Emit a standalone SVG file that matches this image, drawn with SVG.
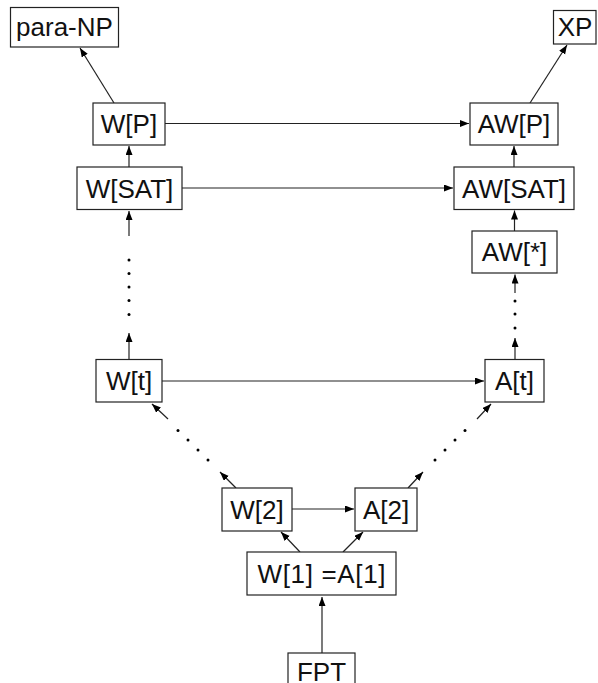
<svg xmlns="http://www.w3.org/2000/svg" width="598" height="683" viewBox="0 0 598 683">
<defs>
<marker id="ah" markerUnits="userSpaceOnUse" markerWidth="10" markerHeight="8" refX="9" refY="3.5" orient="auto">
<path d="M0,0 L9,3.5 L0,7 z" fill="#000"/>
</marker>
<style>
.box{fill:#fff;stroke:#222;stroke-width:1.2}
.lbl{font-family:"Liberation Sans",Arial,sans-serif;font-size:26px;fill:#111;text-anchor:middle}
.edge{stroke:#222;stroke-width:1.2;fill:none;marker-end:url(#ah)}
.dot{fill:#000}
</style>
</defs>
<rect width="598" height="683" fill="#fff"/>
<g id="connectors">
<line class="edge" x1="165" y1="123.5" x2="469" y2="123.5"/>
<line class="edge" x1="182" y1="188" x2="453" y2="188"/>
<line class="edge" x1="162" y1="381" x2="484" y2="381"/>
<line class="edge" x1="292" y1="509" x2="354" y2="509"/>
<line class="edge" x1="129" y1="167" x2="129" y2="146"/>
<line class="edge" x1="514" y1="167" x2="514" y2="146"/>
<line class="edge" x1="514.5" y1="231" x2="514.5" y2="210.5"/>
<line class="edge" x1="114" y1="103" x2="80" y2="48"/>
<line class="edge" x1="530" y1="103" x2="567" y2="45"/>
<line class="edge" x1="322" y1="653" x2="322" y2="597"/>
<line class="edge" x1="300" y1="552" x2="281" y2="532"/>
<line class="edge" x1="343" y1="552" x2="363" y2="532"/>
<line class="edge" x1="129" y1="359" x2="129" y2="333"/>
<line class="edge" x1="129" y1="236" x2="129" y2="211"/>
<g class="dot"><circle cx="129" cy="260" r="1.5"/><circle cx="129" cy="273.5" r="1.5"/><circle cx="129" cy="287" r="1.5"/><circle cx="129" cy="300.5" r="1.5"/><circle cx="129" cy="314.5" r="1.5"/></g>
<line class="edge" x1="515" y1="359" x2="515" y2="338"/>
<line class="edge" x1="515" y1="293" x2="515" y2="274.5"/>
<g class="dot"><circle cx="515" cy="301" r="1.5"/><circle cx="515" cy="314" r="1.5"/><circle cx="515" cy="328" r="1.5"/></g>
<line class="edge" x1="236" y1="488" x2="220" y2="472"/>
<line class="edge" x1="168" y1="419" x2="152" y2="404"/>
<g class="dot"><circle cx="208" cy="460" r="1.5"/><circle cx="198" cy="450" r="1.5"/><circle cx="188" cy="440" r="1.5"/><circle cx="178" cy="430.5" r="1.5"/></g>
<line class="edge" x1="408" y1="488" x2="423" y2="472"/>
<line class="edge" x1="477" y1="419" x2="491" y2="404"/>
<g class="dot"><circle cx="435" cy="460" r="1.5"/><circle cx="445" cy="450" r="1.5"/><circle cx="455" cy="440" r="1.5"/><circle cx="465" cy="430.5" r="1.5"/></g>
</g>
<g id="paraNP"><rect class="box" x="10.5" y="7.5" width="108" height="39.5"/><text class="lbl" x="64.5" y="35.5">para-NP</text></g>
<g id="XP"><rect class="box" x="553.5" y="10.5" width="42.5" height="33.5"/><text class="lbl" x="575" y="35.5">XP</text></g>
<g id="WP"><rect class="box" x="93" y="103" width="72" height="42"/><text class="lbl" x="129" y="133">W[P]</text></g>
<g id="AWP"><rect class="box" x="470" y="103" width="88" height="42"/><text class="lbl" x="514" y="133">AW[P]</text></g>
<g id="WSAT"><rect class="box" x="77" y="167" width="105" height="42.5"/><text class="lbl" x="129.5" y="197.5">W[SAT]</text></g>
<g id="AWSAT"><rect class="box" x="454" y="167" width="120" height="42.5"/><text class="lbl" x="514" y="197.5">AW[SAT]</text></g>
<g id="AWstar"><rect class="box" x="472" y="231" width="85" height="42"/><text class="lbl" x="514.5" y="261">AW[*]</text></g>
<g id="Wt"><rect class="box" x="96" y="359.5" width="66" height="42.5"/><text class="lbl" x="129" y="389.5">W[t]</text></g>
<g id="At"><rect class="box" x="485" y="359.5" width="59" height="42.5"/><text class="lbl" x="514.5" y="389.5">A[t]</text></g>
<g id="W2"><rect class="box" x="222" y="488" width="70" height="43"/><text class="lbl" x="257" y="518.5">W[2]</text></g>
<g id="A2"><rect class="box" x="355" y="488" width="62" height="43"/><text class="lbl" x="386" y="518.5">A[2]</text></g>
<g id="W1A1"><rect class="box" x="247" y="552" width="149" height="43"/><text class="lbl" x="321.5" y="582.5" textLength="128" lengthAdjust="spacing">W[1] =A[1]</text></g>
<g id="FPT"><rect class="box" x="288" y="653" width="67" height="42"/><text class="lbl" x="321.5" y="681">FPT</text></g>
</svg>
